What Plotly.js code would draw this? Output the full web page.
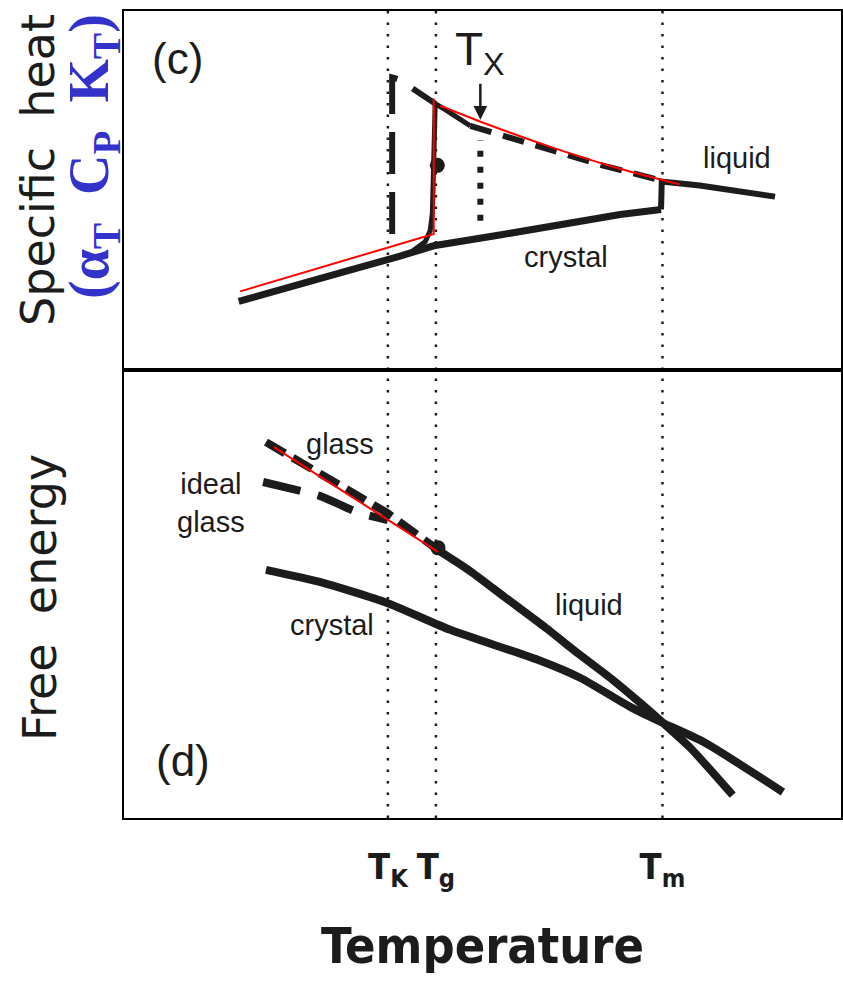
<!DOCTYPE html>
<html>
<head>
<meta charset="utf-8">
<script src="https://cdn.plot.ly/plotly-3.0.1.min.js"></script>
<style>html,body{margin:0;padding:0;background:#fff;}#chart{width:843px;height:981px;}</style>
</head>
<body>
<div id="chart"></div>
<script>
// ---------- characteristic temperatures (arbitrary units, 0-100) ----------
const T_K = 36.8, T_g = 43.5, T_m = 75.1, T_x = 49.7;
const tickVals = [T_K, T_g, T_m];
const tickText = ['T<sub>K</sub>', 'T<sub>g</sub>', 'T<sub>m</sub>'];

// ---------- panel (c): specific heat (arbitrary units, 0-100) ----------
const cCrystalT = [16.0, 24.5, 31.5, 38.5, 43.2, 52.4, 60.8, 69.2, 74.9];
const cCrystal  = [19.1, 23.6, 27.8, 31.7, 34.6, 37.6, 40.4, 43.3, 44.7];
const cLiquidT  = [74.9, 75.0, 80.3, 85.9, 90.8];
const cLiquid   = [44.7, 52.5, 51.4, 49.7, 48.3];
const cGlassT   = [40.2, 42.0, 42.7, 43.0, 43.1, 43.2, 43.4, 43.4, 44.8, 48.3];
const cGlass    = [33.1, 35.7, 38.8, 43.5, 50.6, 59.0, 67.4, 74.2, 72.5, 68.0];
const cSupT     = [48.3, 54.0, 60.0, 66.7, 74.9];
const cSup      = [68.0, 64.6, 61.0, 57.0, 52.8];
const cIdealT   = [37.4, 37.4, 38.4, 43.4];
const cIdeal    = [37.9, 81.5, 80.9, 74.2];
const cTxRange  = [41.6, 64.0];
const cTxArrow  = 69.7;
const cDotT = [43.7], cDot = [57.0];
const cRedLowT  = [16.2, 43.2, 43.2];
const cRedLow   = [21.9, 37.9, 75.6];
const cRedHighT = [44.1, 50.2, 60.0, 68.9, 77.5];
const cRedHigh  = [73.6, 68.8, 61.8, 56.2, 51.7];

// ---------- panel (d): free energy (arbitrary units, 0-100) ----------
const dGlassT   = [19.8, 25.8, 31.4, 36.7, 43.8];
const dGlass    = [83.9, 78.3, 73.2, 68.1, 59.8];
const dIdealT   = [19.4, 24.7, 27.3, 32.5, 36.8];
const dIdeal    = [75.0, 73.0, 71.9, 68.3, 66.5];
const dLiquidT  = [43.8, 48.3, 53.1, 58.7, 63.6, 68.2, 72.0, 75.2, 78.9, 84.9];
const dLiquid   = [59.8, 55.1, 49.3, 42.6, 36.4, 30.8, 25.7, 21.2, 15.8, 5.1];
const dCrystalT = [19.8, 27.3, 36.7, 45.5, 57.7, 63.6, 70.6, 75.2, 80.8, 91.9];
const dCrystal  = [55.4, 52.7, 48.0, 42.0, 35.3, 31.3, 24.8, 21.2, 17.0, 5.8];
const dDotT = [43.8], dDot = [60.3];
const dRedT = [20.9, 43.8];
const dRed  = [82.8, 59.4];

const INK = '#1c1c1c';
const RED = '#ff0000';
const LBL = {family: 'Liberation Sans, Arial, sans-serif', size: 29, color: INK};

function vline(xv, ya) {
  return {x: [xv, xv], y: [0, 100], xaxis: ya === 'y' ? 'x' : 'x2', yaxis: ya,
          mode: 'lines', line: {color: INK, width: 2.5, dash: '2.5px,9px'}, hoverinfo: 'skip'};
}
function curve(xs, ys, ya, width, dash, color, shape) {
  return {x: xs, y: ys, xaxis: ya === 'y' ? 'x' : 'x2', yaxis: ya, mode: 'lines',
          line: {color: color || INK, width: width, dash: dash || 'solid', shape: shape || 'linear',
                 smoothing: 0.6}, hoverinfo: 'skip'};
}

const traces = [];
[T_K, T_g, T_m].forEach(t => { traces.push(vline(t, 'y')); traces.push(vline(t, 'y2')); });

// panel c
traces.push(curve(cCrystalT, cCrystal, 'y', 7));
traces.push(curve(cLiquidT, cLiquid, 'y', 6));
traces.push(curve(cGlassT, cGlass, 'y', 5));
traces.push(curve(cSupT, cSup, 'y', 6, '22px,12px'));
traces.push(curve(cIdealT, cIdeal, 'y', 6, '42px,18px'));
traces.push(curve([T_x, T_x], cTxRange, 'y', 6, '6px,10px'));
traces.push({x: cDotT, y: cDot, xaxis: 'x', yaxis: 'y', mode: 'markers',
             marker: {color: INK, size: 15}, hoverinfo: 'skip'});
traces.push(curve(cRedLowT, cRedLow, 'y', 2, 'solid', RED));
traces.push(curve(cRedHighT, cRedHigh, 'y', 2, 'solid', RED, 'spline'));

// panel d
traces.push(curve(dCrystalT, dCrystal, 'y2', 8, 'solid', INK, 'spline'));
traces.push(curve(dLiquidT, dLiquid, 'y2', 8, 'solid', INK, 'spline'));
traces.push(curve(dGlassT, dGlass, 'y2', 8, '22px,9px'));
traces.push(curve(dIdealT, dIdeal, 'y2', 8, '38px,18px', INK, 'spline'));
traces.push({x: dDotT, y: dDot, xaxis: 'x2', yaxis: 'y2', mode: 'markers',
             marker: {color: INK, size: 15}, hoverinfo: 'skip'});
traces.push(curve(dRedT, dRed, 'y2', 2, 'solid', RED));

const axBase = {range: [0, 100], showgrid: false, zeroline: false, showline: true, mirror: true,
                linecolor: '#000', linewidth: 2, ticks: '', fixedrange: true};
const xDom = [124 / 843, 841 / 843];

const layout = {
  width: 843, height: 981,
  margin: {l: 0, r: 0, t: 0, b: 0},
  paper_bgcolor: '#fff', plot_bgcolor: '#fff',
  showlegend: false,
  xaxis: Object.assign({}, axBase, {domain: xDom, anchor: 'y', showticklabels: false}),
  yaxis: Object.assign({}, axBase, {domain: [1 - 370 / 981, 1 - 11 / 981], anchor: 'x', showticklabels: false}),
  xaxis2: Object.assign({}, axBase, {domain: xDom, anchor: 'y2', showticklabels: true,
    tickvals: tickVals, ticktext: tickText, ticklabelstandoff: 16,
    tickfont: {family: 'DejaVu Sans Condensed, DejaVu Sans, sans-serif', size: 36, color: INK, weight: 'bold'},
    title: {text: 'Temperature', standoff: 36,
      font: {family: 'DejaVu Sans Condensed, DejaVu Sans, sans-serif', size: 50, color: INK, weight: 'bold'}}}),
  yaxis2: Object.assign({}, axBase, {domain: [1 - 818 / 981, 1 - 370 / 981], anchor: 'x2', showticklabels: false}),
  annotations: [
    {xref: 'paper', yref: 'paper', x: 38 / 843, y: 1 - 170 / 981, xanchor: 'center', yanchor: 'middle',
     text: 'Specific&nbsp;&nbsp;heat',
     textangle: -90, showarrow: false, font: {family: 'DejaVu Sans, sans-serif', size: 46, color: INK}},
    {xref: 'paper', yref: 'paper', x: 93 / 843, y: 1 - 157 / 981, xanchor: 'center', yanchor: 'middle',
     text: '(α<sub>T</sub>&nbsp;&nbsp;C<sub>P</sub>&nbsp;&nbsp;K<sub>T</sub>)',
     textangle: -90, showarrow: false,
     font: {family: 'Liberation Serif, Times New Roman, serif', size: 56, color: '#3333cc', weight: 'bold'}},
    {xref: 'paper', yref: 'paper', x: 40 / 843, y: 1 - 598 / 981, xanchor: 'center', yanchor: 'middle',
     text: 'Free&nbsp;&nbsp;energy',
     textangle: -90, showarrow: false, font: {family: 'DejaVu Sans, sans-serif', size: 46, color: INK}},
    {xref: 'x', yref: 'y', x: 7.5, y: 86.8, text: '(c)', showarrow: false,
     font: {family: 'Liberation Sans, Arial, sans-serif', size: 44, color: INK}},
    {xref: 'x', yref: 'y', x: T_x, y: cTxArrow, text: 'T<sub>X</sub>', showarrow: true,
     ax: 0, ay: -67, arrowhead: 2, arrowsize: 1.1, arrowwidth: 2.5, arrowcolor: INK,
     font: {family: 'Liberation Sans, Arial, sans-serif', size: 46, color: INK}},
    {xref: 'x', yref: 'y', x: 85.5, y: 59.0, text: 'liquid', showarrow: false, font: LBL},
    {xref: 'x', yref: 'y', x: 61.6, y: 31.5, text: 'crystal', showarrow: false, font: LBL},
    {xref: 'x2', yref: 'y2', x: 30.1, y: 83.5, text: 'glass', showarrow: false, font: LBL},
    {xref: 'x2', yref: 'y2', x: 12.1, y: 70.3, text: 'ideal<br>glass', showarrow: false, font: LBL},
    {xref: 'x2', yref: 'y2', x: 29.0, y: 43.1, text: 'crystal', showarrow: false, font: LBL},
    {xref: 'x2', yref: 'y2', x: 64.9, y: 47.5, text: 'liquid', showarrow: false, font: LBL},
    {xref: 'x2', yref: 'y2', x: 8.2, y: 12.9, text: '(d)', showarrow: false,
     font: {family: 'Liberation Sans, Arial, sans-serif', size: 44, color: INK}}
  ]
};

Plotly.newPlot('chart', traces, layout, {staticPlot: true, displayModeBar: false});
</script>
</body>
</html>
